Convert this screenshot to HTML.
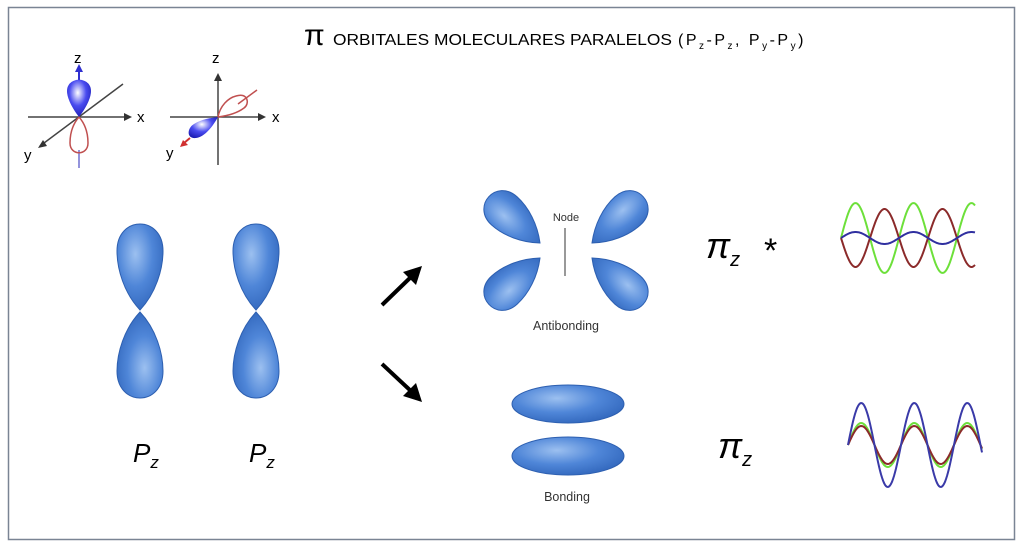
<!DOCTYPE html>
<html><head><meta charset="utf-8"><style>
html,body{margin:0;padding:0;background:#fff;}
svg{display:block;font-family:"Liberation Sans",sans-serif;}
</style></head><body>
<svg id="s" width="1023" height="547" viewBox="0 0 1023 547" xmlns="http://www.w3.org/2000/svg">
<defs>
<radialGradient id="g" cx="0.4" cy="0.35" r="0.75">
<stop offset="0" stop-color="#9cc0f0"/><stop offset="0.5" stop-color="#4f86d8"/><stop offset="1" stop-color="#2d62b8"/>
</radialGradient>
<radialGradient id="gb" cx="0.45" cy="0.35" r="0.7">
<stop offset="0" stop-color="#ffffff"/><stop offset="0.5" stop-color="#4a4cf0"/><stop offset="1" stop-color="#1a1ab0"/>
</radialGradient>
<path id="lobe" d="M0,-1 C-16,-18 -23,-42 -23,-60 C-23,-96 23,-96 23,-60 C23,-42 16,-18 0,-1 Z" fill="url(#g)" stroke="#2d5fb0" stroke-width="1"/>
<path id="slobe" d="M0,0 C-12,-14 -19,-32 -19,-48 C-19,-76 19,-76 19,-48 C19,-32 12,-14 0,0 Z" fill="url(#g)" stroke="#2d5fb0" stroke-width="1"/>
</defs>
<rect x="8.5" y="7.5" width="1006" height="532" fill="#fff" stroke="#7a8494" stroke-width="1.5"/>
<text x="304" y="45" font-size="30">π</text>
<text x="333" y="45" font-size="16" textLength="339" lengthAdjust="spacingAndGlyphs">ORBITALES MOLECULARES PARALELOS</text>
<text x="678" y="45" font-size="16" letter-spacing="2.5">(P<tspan font-size="10" dy="4">z</tspan><tspan dy="-4">-P</tspan><tspan font-size="10" dy="4">z</tspan><tspan dy="-4">, P</tspan><tspan font-size="10" dy="4">y</tspan><tspan dy="-4">-P</tspan><tspan font-size="10" dy="4">y</tspan><tspan dy="-4">)</tspan></text>

<!-- axes 1 -->
<g stroke="#444" stroke-width="1.5" fill="none">
<line x1="28" y1="117" x2="128" y2="117"/><line x1="123" y1="84" x2="40" y2="146"/>
</g>
<polygon points="132,117 124,113 124,121" fill="#333"/>
<polygon points="38,148 43,140 47,146" fill="#333"/>
<line x1="79" y1="150" x2="79" y2="168" stroke="#7070d0" stroke-width="1.5"/>
<line x1="79" y1="84" x2="79" y2="70" stroke="#3030d0" stroke-width="2"/>
<polygon points="79,64 75,72 83,72" fill="#3030d0"/>
<path d="M79,117 C72,125 70,135 70,143 C70,156 88,156 88,143 C88,135 86,125 79,117Z" fill="none" stroke="#c05050" stroke-width="1.5"/>
<path d="M79,117 C72,108 67,98 67,91 C67,76 91,76 91,91 C91,98 86,108 79,117Z" fill="url(#gb)"/>
<text x="74" y="63" font-size="15">z</text><text x="137" y="122" font-size="15">x</text><text x="24" y="160" font-size="15">y</text>
<!-- axes 2 -->
<g stroke="#444" stroke-width="1.5" fill="none">
<line x1="170" y1="117" x2="262" y2="117"/><line x1="218" y1="165" x2="218" y2="80"/>
</g>
<polygon points="266,117 258,113 258,121" fill="#333"/>
<polygon points="218,73 214,81 222,81" fill="#333"/>
<line x1="238" y1="104" x2="257" y2="90" stroke="#c05050" stroke-width="1.5"/>
<path d="M218,117 C220,106 228,98 236,96 C248,92 250,104 244,108 C236,114 226,116 218,117Z" fill="none" stroke="#c05050" stroke-width="1.5"/>
<path d="M218,117 C212,128 204,137 196,138 C186,139 187,128 194,124 C202,119 210,118 218,117Z" fill="url(#gb)"/>
<line x1="190" y1="138" x2="184" y2="143" stroke="#d03030" stroke-width="2"/>
<polygon points="180,147 183,140 188,145" fill="#d03030"/>
<text x="212" y="63" font-size="15">z</text><text x="272" y="122" font-size="15">x</text><text x="166" y="158" font-size="15">y</text>

<!-- Pz lobes -->
<use href="#lobe" transform="translate(140,311)"/>
<use href="#lobe" transform="translate(140,311) rotate(180)"/>
<use href="#lobe" transform="translate(256,311)"/>
<use href="#lobe" transform="translate(256,311) rotate(180)"/>
<text x="133" y="462" font-size="26" font-style="italic">P<tspan font-size="17" dy="6">z</tspan></text>
<text x="249" y="462" font-size="26" font-style="italic">P<tspan font-size="17" dy="6">z</tspan></text>

<!-- arrows -->
<line x1="382" y1="305" x2="412" y2="276" stroke="#000" stroke-width="4"/>
<polygon points="422,266 416,285 403,272" fill="#000"/>
<line x1="382" y1="364" x2="412" y2="392" stroke="#000" stroke-width="4"/>
<polygon points="422,402 403,396 416,383" fill="#000"/>

<!-- antibonding -->
<use href="#slobe" transform="translate(540,243) rotate(-48)"/>
<use href="#slobe" transform="translate(592,243) rotate(48)"/>
<use href="#slobe" transform="translate(540,258) rotate(-132)"/>
<use href="#slobe" transform="translate(592,258) rotate(132)"/>
<text x="566" y="221" font-size="11" text-anchor="middle" fill="#333">Node</text>
<line x1="565" y1="228" x2="565" y2="276" stroke="#777" stroke-width="1.5"/>
<text x="566" y="330" font-size="12.5" text-anchor="middle" fill="#333">Antibonding</text>
<!-- bonding -->
<ellipse cx="568" cy="404" rx="56" ry="19" fill="url(#g)" stroke="#2d5fb0"/>
<ellipse cx="568" cy="456" rx="56" ry="19" fill="url(#g)" stroke="#2d5fb0"/>
<text x="567" y="501" font-size="12.5" text-anchor="middle" fill="#333">Bonding</text>

<text x="706" y="258" font-size="36" font-style="italic">π<tspan font-size="20" dy="8">z</tspan></text>
<text x="764" y="262" font-size="34">*</text>
<text x="718" y="458" font-size="36" font-style="italic">π<tspan font-size="20" dy="8">z</tspan></text>
<g id="w" fill="none" stroke-width="2"></g>
</svg>
<script>
var g=document.getElementById('w');
function wave(x0,x1,cy,A,P,col){var p='';for(var x=x0;x<=x1;x+=1){var y=cy-A*Math.sin(2*Math.PI*(x-x0)/P);p+=(p?'L':'M')+x+','+y.toFixed(1);}
var e=document.createElementNS('http://www.w3.org/2000/svg','path');e.setAttribute('d',p);e.setAttribute('stroke',col);g.appendChild(e);}
wave(841,975,238,35,58,'#6de03a');
wave(841,975,238,-29,58,'#8b2a2a');
wave(841,975,238,6,58,'#3030a0');
wave(848,982,445,22,53,'#6de03a');
wave(848,982,445,19,53,'#8b2a2a');
wave(848,982,445,42,53,'#3a3aa8');
</script>
</body></html>
